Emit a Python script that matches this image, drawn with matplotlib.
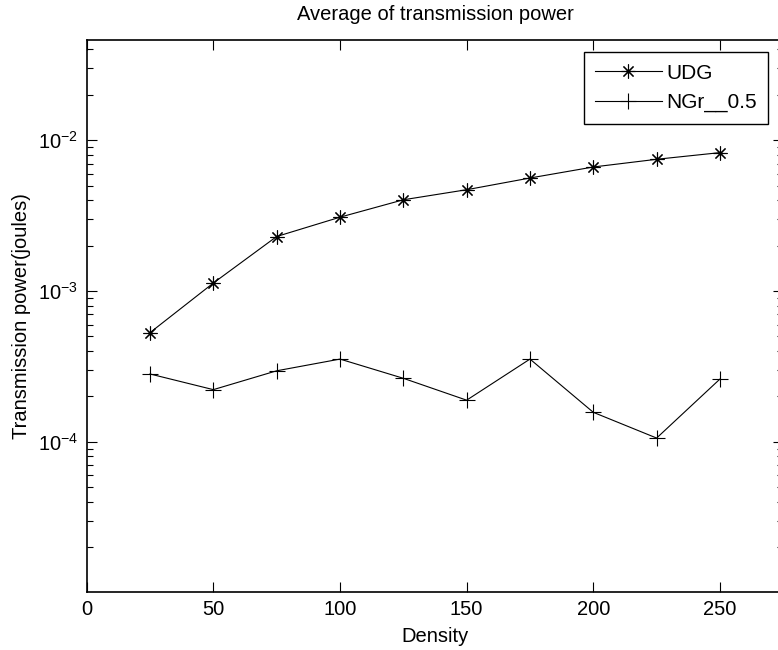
import numpy as np
import matplotlib.pyplot as plt
from matplotlib.ticker import LogLocator, NullFormatter

plt.rcParams['font.family'] = ['Liberation Sans', 'DejaVu Sans']
plt.rcParams['mathtext.fontset'] = 'custom'
plt.rcParams['mathtext.rm'] = 'Liberation Sans'
plt.rcParams['mathtext.it'] = 'Liberation Sans:italic'

density = [25, 50, 75, 100, 125, 150, 175, 200, 225, 250]
udg = [5.3e-4, 1.13e-3, 2.30e-3, 3.09e-3, 4.03e-3, 4.70e-3, 5.62e-3, 6.65e-3, 7.48e-3, 8.28e-3]
ngr = [2.82e-4, 2.22e-4, 2.96e-4, 3.54e-4, 2.64e-4, 1.89e-4, 3.54e-4, 1.57e-4, 1.06e-4, 2.61e-4]
labels = ["UDG", "NGr__0.5"]
xticks = [0, 50, 100, 150, 200, 250]
yticks = [1e-4, 1e-3, 1e-2]
ytick_labels = [r"10$^{-4}$", r"10$^{-3}$", r"10$^{-2}$"]

fig = plt.figure(figsize=(7.78, 6.5), dpi=100)
ax = fig.add_axes([0.1114, 0.0892, 0.8954, 0.8492])

# asterisk marker = plus + cross, like matlab '*'
ax.plot(density, udg, color='black', lw=0.8, marker=(8, 2, 0), ms=10, mew=0.8, label=labels[0])
ax.plot(density, ngr, color='black', lw=0.8, marker='+', ms=12, mew=0.8, label=labels[1])

ax.set_yscale('log')
ax.set_xlim(0, 275)
ax.set_ylim(1.01e-5, 0.0462)
ax.set_xticks(xticks)
ax.set_yticks(yticks)
ax.set_yticklabels(ytick_labels)
ax.yaxis.set_minor_locator(LogLocator(base=10, subs=np.arange(2, 10)))
ax.yaxis.set_minor_formatter(NullFormatter())
ax.tick_params(which='both', direction='in', top=True, right=True, labelsize=14.5)
ax.tick_params(which='major', length=7, width=0.8)
ax.tick_params(which='minor', length=4, width=0.8)
ax.tick_params(axis='x', pad=6)
ax.tick_params(axis='y', pad=6)
for s in ax.spines.values():
    s.set_linewidth(1.2)
ax.spines['right'].set_visible(False)

ax.set_xlabel('Density', fontsize=14.5, va='center')
ax.set_ylabel('Transmission power(joules)', fontsize=14.5, va='center')
ax.xaxis.set_label_coords(0.5, -0.0797)
ax.yaxis.set_label_coords(-0.093, 0.5)
fig.text(435 / 778, 1 - 15 / 650, 'Average of transmission power', fontsize=14.5,
         ha='center', va='center')

leg = ax.legend(loc='upper right', bbox_to_anchor=(0.978, 0.978), borderaxespad=0,
                fontsize=15, handlelength=3.2, fancybox=False, framealpha=1,
                edgecolor='black', labelspacing=0.5, handletextpad=0.2, borderpad=0.55)
leg.get_frame().set_linewidth(1.0)

fig.savefig('out.png', dpi=100)
